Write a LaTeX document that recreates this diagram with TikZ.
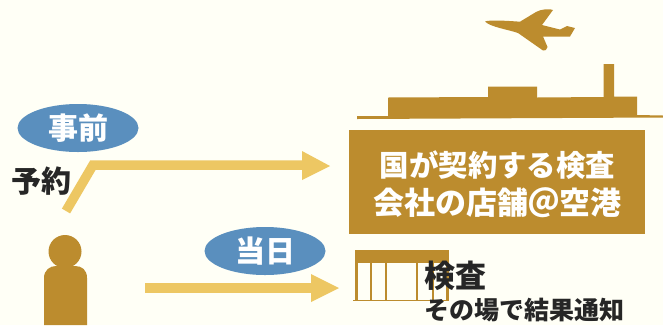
\documentclass[tikz,border=0pt]{standalone}
\usepackage{fontspec}
\setmainfont{Noto Sans CJK JP}[BoldFont={Noto Sans CJK JP Black}]
\usetikzlibrary{shapes.geometric}
\definecolor{bgc}{HTML}{FFFFF6}
\definecolor{gold}{HTML}{BC8C2E}
\definecolor{arrowc}{HTML}{EDC763}
\definecolor{bluec}{HTML}{5A8FBE}
\definecolor{inkc}{HTML}{262626}
\newcommand{\fs}[1]{\fontsize{#1}{#1}\selectfont\bfseries}
\tikzset{
  x=1pt,y=-1pt,
  every node/.style={inner sep=0pt,outer sep=0pt},
  badge/.style={ellipse,fill=bluec,minimum width=121pt,minimum height=48pt,text=white,font=\fs{30}},
  ink/.style={text=inkc},
  flow/.style={draw=arrowc,line width=9.5pt,line join=miter},
  flowhead/.style={fill=arrowc,draw=none},
  post/.style={draw=gold,line width=2.8pt},
  solid gold/.style={fill=gold,draw=none}
}
\begin{document}
\begin{tikzpicture}
\fill[bgc] (0,0) rectangle (663,325);
\useasboundingbox (0,0) rectangle (663,325);

% aeroplane
\fill[gold] (485,21.5) .. controls (490,19.5) and (510,21) .. (520,21.7)
  -- (536,12) .. controls (541,9) and (550,8.5) .. (553,10)
  -- (542,25) -- (560,29.5) -- (567,26) -- (575,28) -- (570,36.5)
  -- (543,36.5) -- (547.5,47) .. controls (547,50) and (545,51) .. (543,50.5)
  -- (518,33) .. controls (510,30) and (490,27) .. (485,21.5) -- cycle;

% terminal
\fill[gold] (388,97.5) -- (388,116) -- (357,116) -- (357,119) -- (663,117.5) -- (663,115.5) -- (637,115) -- (637,96.5)
  -- (614,96.5) -- (614,64) -- (603.5,64) -- (603.5,97) -- (537,97.5) -- (537,86.5) -- (488,86.5) -- (488,97) -- cycle;

% counter box
\node[solid gold,minimum width=296pt,minimum height=104pt,anchor=north west] (shopbox) at (349,130) {};
\node[text=white,font=\fs{29.4}] (boxline1) at (497.5,165.5) {国が契約する検査};
\node[text=white,font=\fs{31}] (boxline2) at (497.5,203) {会社の店舗＠空港};

% badges
\node[badge] (before) at (78,128) {\raisebox{0.5pt}{事前}};
\node[badge] (sameday) at (265,251) {\raisebox{-0.5pt}{当日}};

% label
\node[ink,font=\fs{30},anchor=west] (reserve) at (11,181.5) {予約};

% person
\fill[gold] (65,251.5) circle (16.5);
\fill[gold] (44,325) -- (44,278) .. controls (44,270) and (50,266) .. (56,266)
  -- (75,266) .. controls (82,266) and (87,270) .. (87,278) -- (87,325) -- cycle;

% arrows
\coordinate (a1s) at (66,211);
\coordinate (a1b) at (93,165);
\coordinate (a1e) at (305,165);
\coordinate (a1t) at (330,166);
\draw[flow] (a1s) -- (a1b) -- (a1e);
\fill[flowhead] (302,151) -- (a1t) -- (302,180) -- cycle;
\coordinate (a2s) at (145,288);
\coordinate (a2e) at (315,288);
\coordinate (a2t) at (339,288);
\draw[flow] (a2s) -- (a2e);
\fill[flowhead] (311,274) -- (a2t) -- (311,302) -- cycle;

% shop
\fill[gold] (355,249.5) rectangle (448.5,262.5);
\foreach \px in {356.5,371,386,417,433,447.5}
  \draw[post] (\px,262) -- (\px,300.5);
\draw[gold,line width=1.6pt] (353,300.5) -- (449,300.5);

% texts
\node[ink,font=\fs{31},anchor=west] (inspect) at (424,275.5) {検査};
\node[ink,font=\fs{25},anchor=west] (result) at (424,310) {その場で結果通知};
\end{tikzpicture}
\end{document}
